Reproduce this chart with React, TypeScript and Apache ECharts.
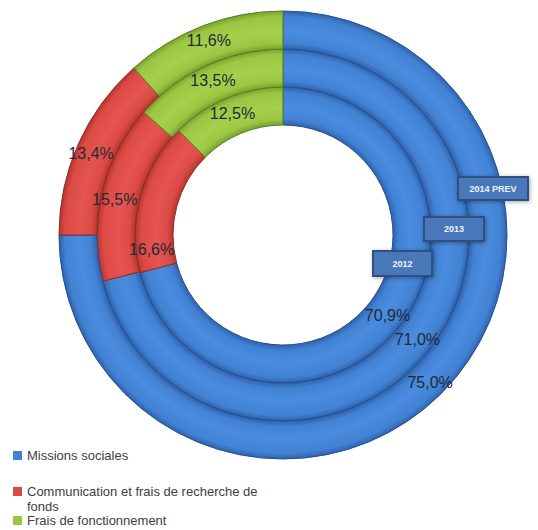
import React, { useEffect, useRef } from "react";
import * as echarts from "echarts";

const categories = ["Missions sociales", "Communication et frais de recherche de fonds", "Frais de fonctionnement"];
const years = ["2012", "2013", "2014 PREV"];
const values2012 = [70.9, 16.6, 12.5];
const values2013 = [71.0, 15.5, 13.5];
const values2014 = [75.0, 13.4, 11.6];

const colors = ["#4282d3", "#dc4a44", "#9bc642"];
const edgeColors = ["#2f62ad", "#b5362f", "#77a22e"];
const lightColors = ["#4b8ce0", "#e5554f", "#a6d04b"];
const borders = ["#264f8c", "#8f2a26", "#55801d"];

const fmt = (v: number) => v.toFixed(1).replace(".", ",") + "%";

export default function App() {
  const ref = useRef<HTMLDivElement>(null);
  useEffect(() => {
    document.body.style.margin = "0";
    const chart = echarts.init(ref.current!, undefined, { renderer: "svg" });
    const allValues = [values2012, values2013, values2014];
    const cx = 283;
    const cy = 235;
    const R = 224;
    const radii = [
      [110, 148],
      [148, 186],
      [186, R],
    ];
    const shifts: Record<string, [number, number]> = {
      "0-1": [-4, 49],
      "1-1": [-3, 4],
      "2-1": [-2, 3],
    };
    const ringFill = (ci: number, r0: number, r1: number) =>
      new echarts.graphic.RadialGradient(
        cx,
        cy,
        R,
        [
          { offset: r0 / R, color: edgeColors[ci] },
          { offset: (r0 + 6) / R, color: colors[ci] },
          { offset: (r0 + (r1 - r0) * 0.45) / R, color: lightColors[ci] },
          { offset: (r1 - 6) / R, color: colors[ci] },
          { offset: r1 / R, color: edgeColors[ci] },
        ],
        true
      );
    const series = allValues.map((vals, si) => ({
      type: "pie",
      name: years[si],
      center: [cx, cy],
      radius: radii[si],
      startAngle: 90,
      clockwise: true,
      avoidLabelOverlap: false,
      z: 2,
      label: {
        show: true,
        position: "inside",
        formatter: (p: any) => fmt(p.value),
        color: "#1e2a38",
        fontSize: 16,
        fontFamily: "Liberation Sans, Arial, sans-serif",
      },
      labelLine: { show: false },
      labelLayout: (p: any) => {
        const s = shifts[si + "-" + p.dataIndex];
        return s ? { dx: s[0], dy: s[1] } : {};
      },
      emphasis: { disabled: true },
      data: vals.map((v, i) => ({
        name: categories[i],
        value: v,
        itemStyle: {
          color: ringFill(i, radii[si][0], radii[si][1]),
          borderColor: borders[i],
          borderWidth: 1,
        },
      })),
    }));

    const legendBase = {
      orient: "vertical",
      left: 13,
      padding: 0,
      icon: "rect",
      itemWidth: 9,
      itemHeight: 9,
      itemGap: 0,
      selectedMode: false,
      textStyle: {
        color: "#404040",
        fontSize: 13,
        fontFamily: "Liberation Sans, Arial, sans-serif",
      },
    };

    const boxes = [
      { x: 373, y: 251, w: 59, h: 25, text: "2012" },
      { x: 424, y: 217, w: 60, h: 24, text: "2013" },
      { x: 458, y: 177, w: 70, h: 23, text: "2014 PREV" },
    ];

    chart.setOption({
      animation: false,
      backgroundColor: "#ffffff",
      color: colors,
      legend: [
        {
          ...legendBase,
          top: 449,
          data: [{ name: categories[0], itemStyle: { color: colors[0], borderWidth: 0 } }],
        },
        {
          ...legendBase,
          top: 470,
          data: [{ name: categories[1], itemStyle: { color: colors[1], borderWidth: 0 } }],
          formatter: () => "{e| }\n{a|Communication et frais de recherche de}\n{a|fonds}",
          textStyle: {
            ...legendBase.textStyle,
            rich: {
              e: { fontSize: 13, lineHeight: 15 },
              a: { fontSize: 13, lineHeight: 15, color: "#404040" },
            },
          },
        },
        {
          ...legendBase,
          top: 514,
          data: [{ name: categories[2], itemStyle: { color: colors[2], borderWidth: 0 } }],
        },
      ],
      graphic: boxes.map((b) => ({
        type: "group",
        z: 100,
        children: [
          {
            type: "rect",
            z: 100,
            shape: { x: b.x, y: b.y, width: b.w, height: b.h },
            style: {
              fill: "#4a78ba",
              stroke: "#2d4f80",
              lineWidth: 2,
              shadowBlur: 4,
              shadowColor: "rgba(0,0,0,0.35)",
              shadowOffsetX: 1,
              shadowOffsetY: 1,
            },
          },
          {
            type: "text",
            z: 101,
            x: b.x + b.w / 2,
            y: b.y + b.h / 2,
            style: {
              text: b.text,
              fill: "#eef3fb",
              font: "bold 9px Liberation Sans, Arial, sans-serif",
              align: "center",
              verticalAlign: "middle",
            },
          },
        ],
      })),
      series,
    });
    return () => chart.dispose();
  }, []);
  return <div ref={ref} style={{ width: 538, height: 530, overflow: "hidden" }} />;
}
